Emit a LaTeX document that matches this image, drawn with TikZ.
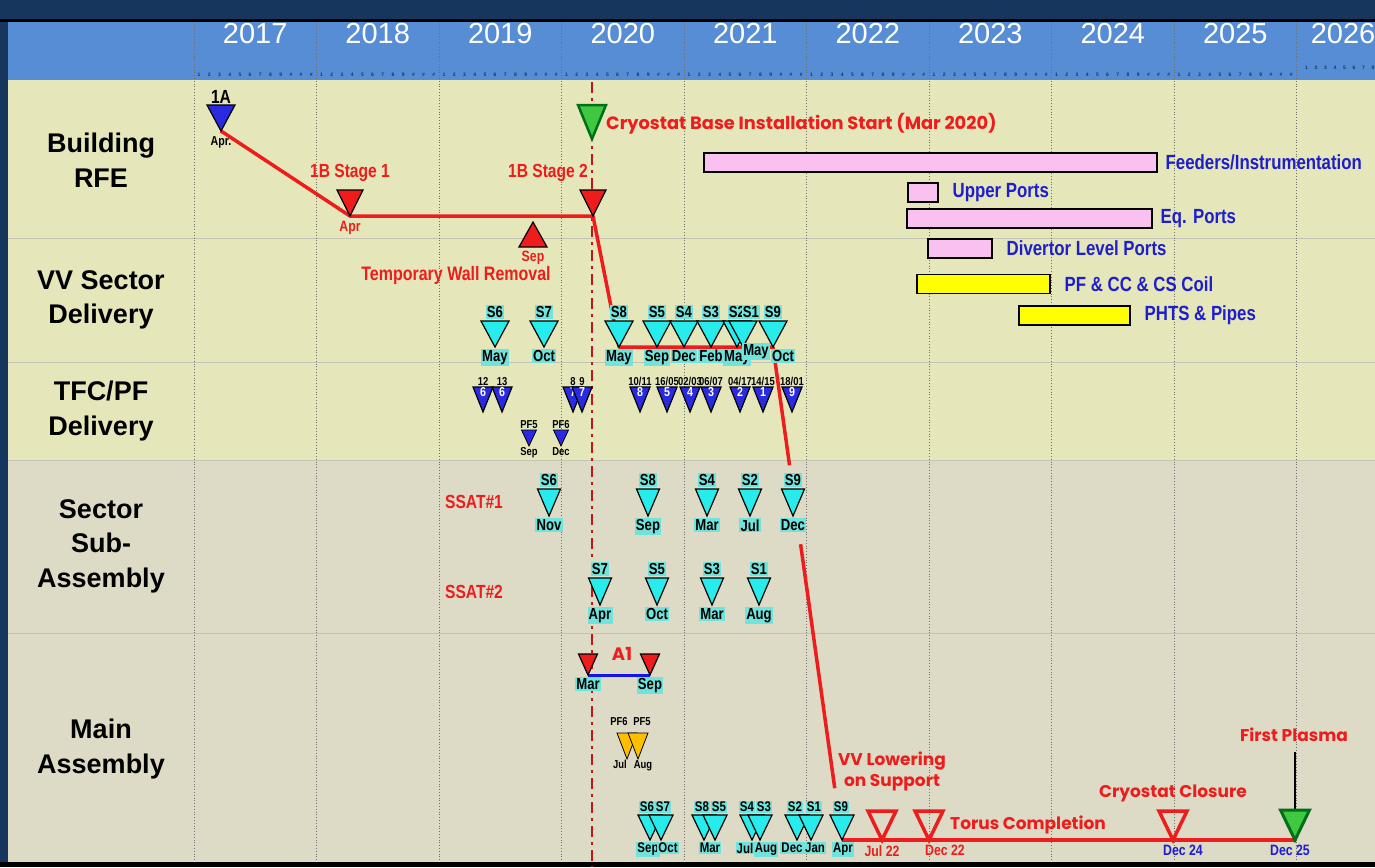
\documentclass[tikz,border=0pt]{standalone}
\usepackage{fontspec}
\setmainfont{Liberation Sans}
\newfontfamily\geofont{Poppins}
\newfontfamily\narrowfont[FakeStretch=0.82]{Liberation Sans}
\usepackage{tikz}
\usetikzlibrary{positioning,shapes.geometric,calc}
\definecolor{framenavy}{RGB}{22,54,94}
\definecolor{headblue}{RGB}{86,141,212}
\definecolor{bandtop}{RGB}{229,231,186}
\definecolor{bandlow}{RGB}{221,218,198}
\definecolor{sepgray}{RGB}{196,196,180}
\definecolor{gridgray}{RGB}{110,110,110}
\definecolor{msred}{RGB}{238,28,28}
\definecolor{dashred}{RGB}{192,24,24}
\definecolor{tricyan}{RGB}{40,236,236}
\definecolor{tagcyan}{RGB}{112,228,220}
\definecolor{triblue}{RGB}{42,42,226}
\definecolor{lblblue}{RGB}{30,30,205}
\definecolor{barpink}{RGB}{250,192,240}
\definecolor{baryellow}{RGB}{255,255,0}
\definecolor{plasmagreen}{RGB}{64,200,64}
\definecolor{darkgreen}{RGB}{0,112,24}
\definecolor{pforange}{RGB}{255,190,0}
\definecolor{a1blue}{RGB}{20,20,230}
\pgfdeclarelayer{bglayer}
\pgfdeclarelayer{linelayer}
\pgfsetlayers{bglayer,linelayer,main}

\begin{document}
\begin{tikzpicture}[x=1pt,y=-1pt,
tri/.style={isosceles triangle,isosceles triangle stretches,shape border rotate=270,draw=black,line width=1.2pt,inner sep=0pt,outer sep=0pt,anchor=apex},
vvtri/.style={tri,fill=tricyan,minimum width=28pt,minimum height=26pt},
sstri/.style={tri,fill=tricyan,minimum width=23pt,minimum height=27pt},
matri/.style={tri,fill=tricyan,minimum width=24pt,minimum height=25pt},
tftri/.style={tri,fill=triblue,minimum width=20pt,minimum height=25pt},
pftri/.style={tri,fill=triblue,line width=0.8pt,minimum width=15pt,minimum height=16pt},
redtri/.style={tri,fill=msred,minimum width=26pt,minimum height=26pt},
opentri/.style={tri,draw=msred,line width=3.5pt,minimum width=28pt,minimum height=29pt},
tag/.style={fill=tagcyan,inner sep=1.2pt,label distance=2pt,font=\narrowfont\bfseries\fontsize{16}{16}\selectfont},
smalltag/.style={tag,inner sep=1pt,font=\narrowfont\bfseries\fontsize{14}{14}\selectfont},
lbltxt/.style={inner sep=1pt,font=\narrowfont\bfseries\fontsize{13}{13}\selectfont},
tinytxt/.style={inner sep=1pt,font=\narrowfont\bfseries\fontsize{11.5}{11.5}\selectfont},
redsmall/.style={text=msred,inner sep=1pt,font=\narrowfont\bfseries\fontsize{15}{15}\selectfont},
bluesmall/.style={text=lblblue,inner sep=1pt,font=\narrowfont\bfseries\fontsize{15}{15}\selectfont},
redtxt/.style={text=msred,inner sep=1pt,font=\narrowfont\bfseries\fontsize{19}{19}\selectfont},
geotxt/.style={text=msred,inner sep=0pt,align=center,font=\geofont\bfseries\fontsize{17}{21}\selectfont},
numtxt/.style={text=white,inner sep=0pt,font=\narrowfont\bfseries\fontsize{13}{13}\selectfont},
rowlbl/.style={align=center,font=\bfseries\fontsize{27}{34.5}\selectfont},
yrtxt/.style={text=white,font=\fontsize{29}{29}\selectfont},
ticktxt/.style={text=framenavy,inner sep=0pt,font=\bfseries\fontsize{5}{5}\selectfont},
barbox/.style={draw=black,line width=1.5pt,minimum height=19pt,inner sep=0pt,anchor=west},
barlbl/.style={text=lblblue,inner sep=0pt,font=\narrowfont\bfseries\fontsize{20.5}{20.5}\selectfont},
redline/.style={draw=msred,line width=3.5pt,line join=round},
yeargrid/.style={draw=gridgray,dotted,line width=0.8pt}]
\useasboundingbox (0,0) rectangle (1375,867);

% frame, bands and year grid
\begin{pgfonlayer}{bglayer}
\fill[framenavy] (0,0) rectangle (1375,867);
\fill[black] (0,19) rectangle (1375,22);
\fill[headblue] (8,22) rectangle (1375,80);
\fill[bandtop] (8,80) rectangle (1375,460);
\fill[bandlow] (8,460) rectangle (1375,862);
\fill[black] (0,862) rectangle (1375,867);
\foreach \yy in {238,362,460,633} \draw[sepgray,line width=1pt] (8,\yy) -- (1375,\yy);
\foreach \k in {0,...,9} \draw[yeargrid] (194+122.5*\k,22) -- (194+122.5*\k,862);
\draw[dashred,line width=2.6pt,dash pattern=on 11pt off 5pt on 3pt off 5pt] (592,82) -- (592,867);
\end{pgfonlayer}

% header
\foreach \yr [count=\k from 0] in {2017,...,2025}
  \node[yrtxt] (yr\yr) at (255.25+122.5*\k,34) {\yr};
\node[yrtxt] (yr2026) at (1343,34) {2026};
\foreach \k in {0,...,8}{
  \foreach \m in {1,...,12}
    \node[ticktxt] (tk\k-\m) at (194+122.5*\k+10.2*\m-5.1,75) {\ifnum\m>9 \#\else\m\fi};
}
\foreach \m in {1,...,8}
  \node[ticktxt] (tk9-\m) at (1297+9.5*\m,68) {\m};

% row titles
\node[rowlbl] (rbuild) at (101,160) {Building\\RFE};
\node[rowlbl] (rvv) at (101,300) {VV Sector\\Delivery};
\node[rowlbl] (rtfc) at (101,411) {TFC/PF\\Delivery};
\node[rowlbl] (rsub) at (101,546) {Sector\\Sub-\\Assembly};
\node[rowlbl] (rmain) at (101,749) {Main\\Assembly};

% building RFE
\node[tri,fill=triblue,minimum width=28pt,minimum height=26pt,
  label={[inner sep=1pt,font=\narrowfont\bfseries\fontsize{19}{19}\selectfont]above:1A},
  label={[lbltxt,label distance=4pt]below:Apr.}] (m1a) at (221,131) {};
\node[redtri,label={[redtxt,label distance=7pt]above:1B Stage 1},
  label={[redsmall,label distance=4pt]below:Apr}] (m1b1) at (350,216) {};
\node[redtri,label={[redtxt,label distance=7pt,xshift=-45pt]above:1B Stage 2}] (m1b2) at (593,216) {};
\node[tri,shape border rotate=90,fill=msred,minimum width=28pt,minimum height=25pt,
  label={[redsmall,label distance=3pt]below:Sep}] (wall) at (533,222) {};
\node[redtxt,font=\narrowfont\bfseries\fontsize{19.5}{19.5}\selectfont] (walllbl) at (456,275) {Temporary Wall Removal};
\node[tri,fill=plasmagreen,draw=darkgreen,line width=2.5pt,minimum width=28pt,minimum height=34pt] (cryo) at (592,139) {};
\node[geotxt,font=\geofont\bfseries\fontsize{17.8}{21}\selectfont,anchor=west] (cryolbl) at (606,124) {Cryostat Base Installation Start (Mar 2020)};

% work package bars
\node[barbox,fill=barpink,minimum width=453pt] (feed) at (703,162.5) {};
\node[barlbl,right=8pt of feed] (feedlbl) {Feeders/Instrumentation};
\node[barbox,fill=barpink,minimum width=30pt] (upper) at (907,192.5) {};
\node[barlbl,right=14pt of upper] (upperlbl) {Upper Ports};
\node[barbox,fill=barpink,minimum width=245pt] (eqp) at (906,218.5) {};
\node[barlbl,right=8pt of eqp] (eqplbl) {Eq. Ports};
\node[barbox,fill=barpink,minimum width=64pt] (divl) at (927,248.5) {};
\node[barlbl,right=14pt of divl] (divllbl) {Divertor Level Ports};
\node[barbox,fill=baryellow,minimum width=133pt] (coil) at (916,284) {};
\node[barlbl,right=14pt of coil] (coillbl) {PF \& CC \& CS Coil};
\node[barbox,fill=baryellow,minimum width=111pt] (phts) at (1018,315.5) {};
\node[barlbl,right=14pt of phts] (phtslbl) {PHTS \& Pipes};

% VV sector delivery
\foreach \x/\s/\m in {495/S6/May,544/S7/Oct,619/S8/May,657/S5/Sep,684/S4/Dec,711/S3/Feb,737/S2/May}
  \node[vvtri,label={[tag]above:\s},label={[tag]below:\m}] (v\s) at (\x,347) {};
\node[vvtri,label={[tag]above:S9},label={[tag,xshift=10pt]below:Oct}] (vS9) at (773,347) {};
\node[vvtri,label={[tag,xshift=8pt]above:S1},label={[tag,xshift=13pt,yshift=6pt]below:May}] (vS1) at (743,347) {};

% TFC/PF delivery
\foreach \x/\t/\n [count=\i] in {483/12/6,502/13/6,573/8/7,582/9/7,640/{10/11}/8,667/{16/05}/5,690/{02/03}/4,711/{06/07}/3,740/{04/17}/2,763/{14/15}/1,792/{18/01}/9}
  \node[tftri,label={[tinytxt]above:\t},label={[numtxt,yshift=2pt]center:\n}] (tf\i) at (\x,412) {};
\node[pftri,label={[tinytxt]above:PF5},label={[tinytxt]below:Sep}] (pf5) at (529,446) {};
\node[pftri,label={[tinytxt]above:PF6},label={[tinytxt]below:Dec}] (pf6) at (561,446) {};

% sector sub-assembly
\node[redtxt] (ssat1) at (474,502) {SSAT\#1};
\node[redtxt] (ssat2) at (474,592) {SSAT\#2};
\foreach \x/\s/\m in {549/S6/Nov,648/S8/Sep,707/S4/Mar,750/S2/Jul,793/S9/Dec}
  \node[sstri,label={[tag]above:\s},label={[tag]below:\m}] (a\s) at (\x,516) {};
\foreach \x/\s/\m in {600/S7/Apr,657/S5/Oct,712/S3/Mar,759/S1/Aug}
  \node[sstri,label={[tag]above:\s},label={[tag]below:\m}] (b\s) at (\x,605) {};

% main assembly
\node[redtri,minimum width=19pt,minimum height=21pt,label={[tag]below:Mar}] (a1s) at (588,675) {};
\node[redtri,minimum width=19pt,minimum height=21pt,label={[tag]below:Sep}] (a1e) at (650,675) {};
\node[geotxt,font=\geofont\bfseries\fontsize{18}{18}\selectfont] (a1lbl) at (622,654) {A1};
\node[tri,fill=pforange,line width=0.8pt,minimum width=20pt,minimum height=26pt,
  label={[tinytxt,xshift=-8pt,label distance=6pt]above:PF6},label={[tinytxt,xshift=-7pt]below:Jul}] (pf6m) at (627,759) {};
\node[tri,fill=pforange,line width=0.8pt,minimum width=20pt,minimum height=26pt,
  label={[tinytxt,xshift=4pt,label distance=6pt]above:PF5},label={[tinytxt,xshift=5pt]below:Aug}] (pf5m) at (638,759) {};
\foreach \x/\s/\ls/\m/\lm in {650/S6/-3/Sep/-2,661/S7/2/Oct/7,704/S8/-2/Mar/6,752/S4/-5/Jul/-7,760/S3/4/Aug/6,797/S2/-2/Dec/-5,811/S1/3/Jan/4,842/S9/-1/Apr/1}
  \node[matri,label={[smalltag,xshift=\ls pt]above:\s},label={[smalltag,xshift=\lm pt]below:\m}] (m\s) at (\x,840) {};
\node[matri,label={[smalltag,xshift=4pt]above:S5}] (mS5) at (715,840) {};
\node[opentri,label={[redsmall,label distance=4pt]below:Jul 22}] (jul22) at (882,840) {};
\node[opentri,label={[redsmall,label distance=4pt,xshift=16pt]below:Dec 22}] (dec22) at (929,840) {};
\node[opentri,label={[bluesmall,label distance=4pt,xshift=10pt]below:Dec 24}] (closure) at (1173,840) {};
\node[tri,fill=plasmagreen,draw=darkgreen,line width=3pt,minimum width=29pt,minimum height=30pt,
  label={[bluesmall,label distance=4pt,xshift=-5pt]below:Dec 25}] (plasma) at (1295,840) {};
\node[geotxt] (vvlow) at (892,771) {VV Lowering\\on Support};
\node[geotxt,anchor=west] (torus) at (950,825) {Torus Completion};
\node[geotxt] (closurelbl) at (1173,793) {Cryostat Closure};
\node[geotxt] (plasmalbl) at (1294,735) {First Plasma};
\coordinate (plasmatop) at (1295,752);

% critical path
\begin{pgfonlayer}{linelayer}
\draw[redline] (m1a.apex) -- (m1b1.apex) -- (m1b2.apex) -- (vS8.apex) -- (vS9.apex);
\draw[redline] (vS9.apex) -- ($(vS9.apex)!0.24!(mS9.apex)$);
\draw[redline] ($(vS9.apex)!0.40!(mS9.apex)$) -- ($(vS9.apex)!0.895!(mS9.apex)$);
\draw[redline] (mS9.apex) -- (jul22.apex) -- (dec22.apex) -- (closure.apex) -- (plasma.apex);
\draw[a1blue,line width=3pt] (a1s.apex) -- (a1e.apex);
\draw[line width=1.5pt] (plasmatop) -- (plasma.center);
\end{pgfonlayer}
\end{tikzpicture}
\end{document}
